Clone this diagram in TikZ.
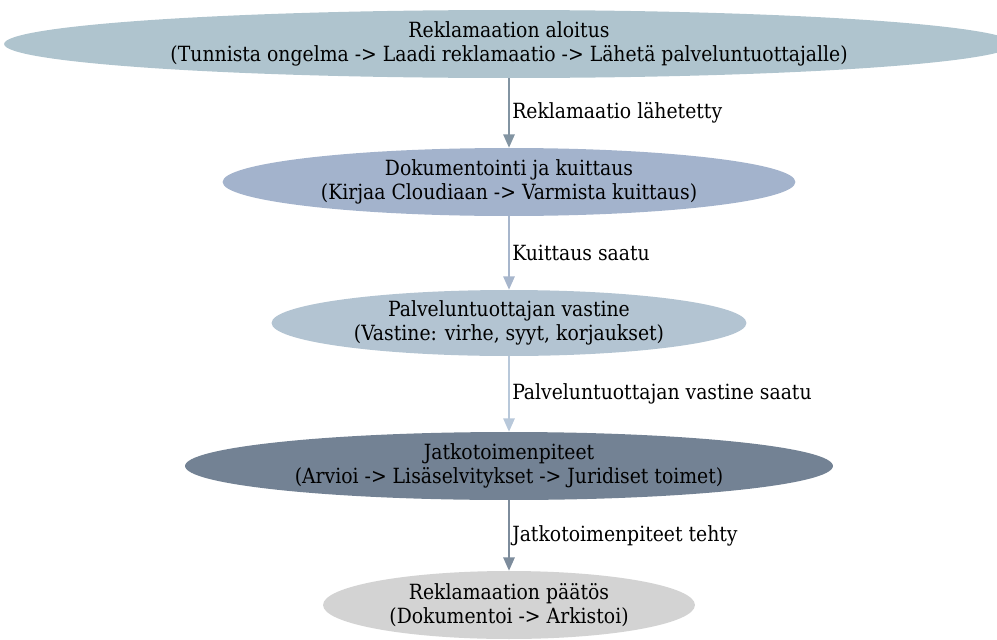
\documentclass[tikz,border=0pt]{standalone}
\usepackage{fontspec}
\setmainfont{DejaVu Serif Condensed}
\usetikzlibrary{shapes.geometric,arrows.meta}

\definecolor{aloitusfill}{HTML}{AFC4CE}
\definecolor{kuittausfill}{HTML}{A3B3CC}
\definecolor{vastinefill}{HTML}{B3C4D2}
\definecolor{jatkofill}{HTML}{738294}
\definecolor{paatosfill}{HTML}{D3D3D3}
\definecolor{arrowone}{HTML}{8294A2}
\definecolor{arrowtwo}{HTML}{A7B6CC}
\definecolor{arrowthree}{HTML}{B8C8DA}
\definecolor{arrowfour}{HTML}{7D8C9C}

\begin{document}
\begin{tikzpicture}[x=0.02cm,y=-0.02cm,
  stage/.style={ellipse,draw=none,inner sep=0pt,align=center,
    font=\fontsize{11.9}{13.3}\selectfont,minimum height=1.36cm},
  flow/.style={-{Triangle[length=7.5pt,width=6.5pt]},line width=0.7pt},
  flowlabel/.style={anchor=west,inner sep=1.5pt,font=\fontsize{11.9}{13}\selectfont}]

  \useasboundingbox (0,0) rectangle (997,639);

  \node[stage,fill=aloitusfill,minimum width=20.2cm] (aloitus) at (509,44)
    {Reklamaation aloitus\\(Tunnista ongelma -> Laadi reklamaatio -> Lähetä palveluntuottajalle)};
  \node[stage,fill=kuittausfill,minimum width=11.46cm] (kuittaus) at (509,182)
    {Dokumentointi ja kuittaus\\(Kirjaa Cloudiaan -> Varmista kuittaus)};
  \node[stage,fill=vastinefill,minimum width=9.5cm,minimum height=1.32cm] (vastine) at (509,323)
    {Palveluntuottajan vastine\\(Vastine: virhe, syyt, korjaukset)};
  \node[stage,fill=jatkofill,minimum width=12.96cm] (jatko) at (509,466)
    {Jatkotoimenpiteet\\(Arvioi -> Lisäselvitykset -> Juridiset toimet)};
  \node[stage,fill=paatosfill,minimum width=7.44cm] (paatos) at (509,605)
    {Reklamaation päätös\\(Dokumentoi -> Arkistoi)};

  \draw[flow,draw=arrowone] (aloitus.south) -- node[flowlabel] {Reklamaatio lähetetty} (kuittaus.north);
  \draw[flow,draw=arrowtwo] (kuittaus.south) -- node[flowlabel] {Kuittaus saatu} (vastine.north);
  \draw[flow,draw=arrowthree] (vastine.south) -- node[flowlabel] {Palveluntuottajan vastine saatu} (jatko.north);
  \draw[flow,draw=arrowfour] (jatko.south) -- node[flowlabel] {Jatkotoimenpiteet tehty} (paatos.north);

\end{tikzpicture}
\end{document}
